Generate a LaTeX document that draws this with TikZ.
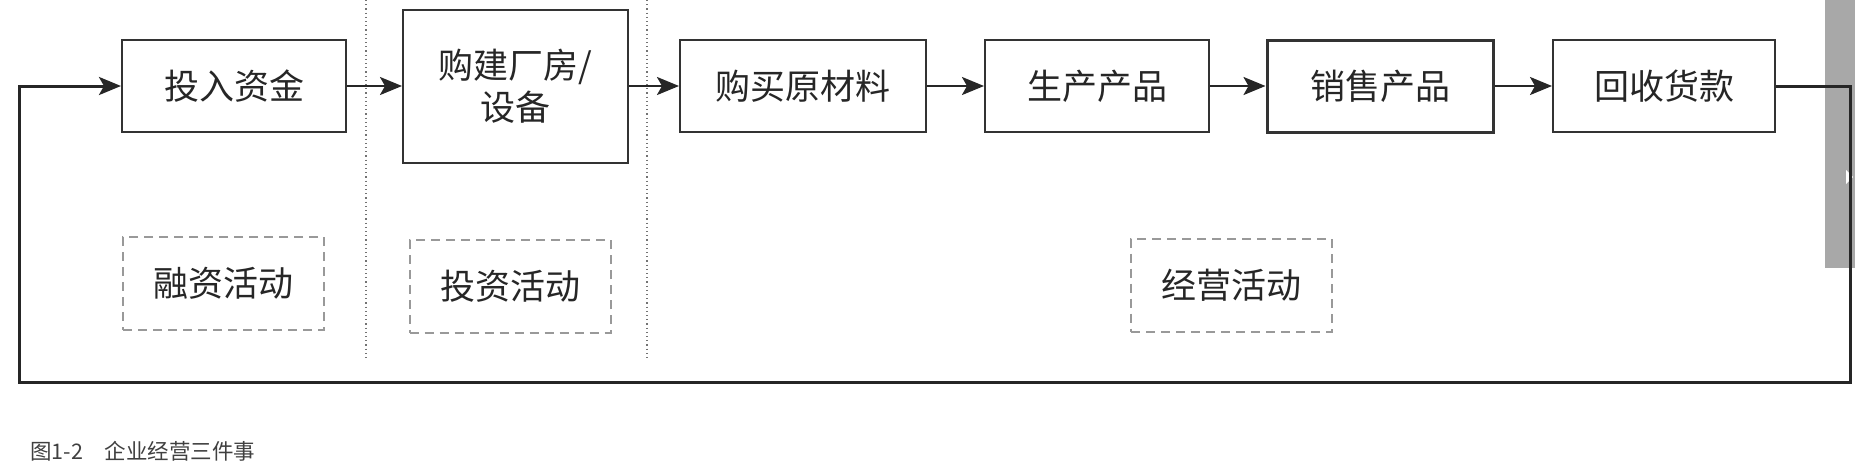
\documentclass[tikz,border=0pt]{standalone}
\usepackage{fontspec}
\newfontfamily\cjk{Noto Sans CJK SC}
\usetikzlibrary{positioning,calc,arrows.meta}

\begin{document}
\begin{tikzpicture}
	[   x=1pt,y=-1pt,
	    bnode/.style={draw=black!80,line width=2pt,fill=white,minimum height=92pt,inner sep=0pt,align=center,
	        text=black!85,font=\cjk\fontsize{35}{42}\selectfont},
	    dnode/.style={draw=black!40,line width=2pt,dash pattern=on 9pt off 6pt,minimum width=201pt,minimum height=93pt,
	        inner sep=0pt,text=black!85,font=\cjk\fontsize{35}{42}\selectfont},
	]
	\tikzset{normal arrow/.style={draw,line width=2.5pt,black!85,-{Stealth[length=22pt,width=18pt,inset=5pt]}}}
	\tikzset{sep line/.style={draw,black!55,line width=1.2pt,dash pattern=on 1.2pt off 3pt}}
	\useasboundingbox (0,0) rectangle (1855,472);
	
	% scroll bar at the right edge
	\fill[black!34] (1825,0) rectangle (1855,268);
	\fill[white] (1846,170) -- (1853,177) -- (1846,184) -- cycle;
	
	% separators between the three activities
	\foreach \x in {366,647}
	{
		\path[sep line] (\x,0) -- (\x,360);
	}
	
	\node[bnode,minimum width=224pt] (b-1) at (234,86) {投入资金};
	\node[bnode,minimum width=225pt,minimum height=153pt] (b-2) at (515.5,86) {购建厂房/\\设备};
	\node[bnode,minimum width=246pt] (b-3) at (803,86) {购买原材料};
	\node[bnode,minimum width=224pt] (b-4) at (1097,86) {生产产品};
	\node[bnode,minimum width=226pt,line width=3pt] (b-5) at (1380,86) {销售产品};
	\node[bnode,minimum width=222pt] (b-6) at (1664,86) {回收货款};
	
	\node[dnode] (a-1) at (223.5,283.5) {融资活动};
	\node[dnode] (a-2) at (510,286.5) {投资活动};
	\node[dnode] (a-3) at (1231.5,285) {经营活动};
	
	\foreach \x [count=\y from 2] in {1,...,5}
	{
		\path[normal arrow] (b-\x) -- (b-\y);
	}
	
	% money flows back to the start
	\coordinate (c-r) at (1850,382);
	\coordinate (c-l) at (19,382);
	\path[normal arrow,line width=3pt] (b-6.east) -- (b-6.east -| c-r) |- (c-l) |- (b-1.west);
	
	\node[anchor=base west,inner sep=0pt,text=black!75,font=\cjk\fontsize{21.5}{21.5}\selectfont] (cap) at (30,459)
	    {图1-2\hspace{1em}企业经营三件事};
\end{tikzpicture}
\end{document}
